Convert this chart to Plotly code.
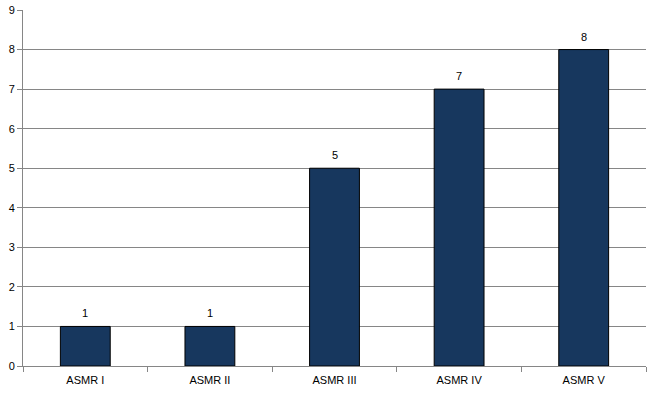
import plotly.graph_objects as go

categories = ["ASMR I", "ASMR II", "ASMR III", "ASMR IV", "ASMR V"]
values = [1, 1, 5, 7, 8]

fig = go.Figure(go.Bar(
    x=categories, y=values,
    marker=dict(color="#17375E", line=dict(color="#000000", width=1)),
    width=0.4,
))

for c, v in zip(categories, values):
    fig.add_annotation(x=c, y=v, text=str(v), showarrow=False, yanchor="middle",
                       yshift=13, font=dict(size=11, color="#000000"))

fig.update_layout(
    width=654, height=394,
    margin=dict(l=23, r=8, t=10, b=28, autoexpand=False),
    paper_bgcolor="white", plot_bgcolor="white",
    font=dict(family="Liberation Sans, Arial, sans-serif", size=11, color="#000000"),
    showlegend=False,
)
fig.update_xaxes(
    showline=True, linecolor="#868686", linewidth=1,
    ticks="outside", tickson="boundaries", ticklen=5, tickcolor="#868686",
    showgrid=False, tickfont=dict(size=11), ticklabelstandoff=4,
)
fig.update_yaxes(
    range=[0, 9], dtick=1, showline=True, linecolor="#868686", linewidth=1,
    ticks="outside", ticklen=5, tickcolor="#868686",
    showgrid=True, gridcolor="#868686", gridwidth=1, zeroline=False,
    tickfont=dict(size=11),
)

fig.write_html("out.html")
